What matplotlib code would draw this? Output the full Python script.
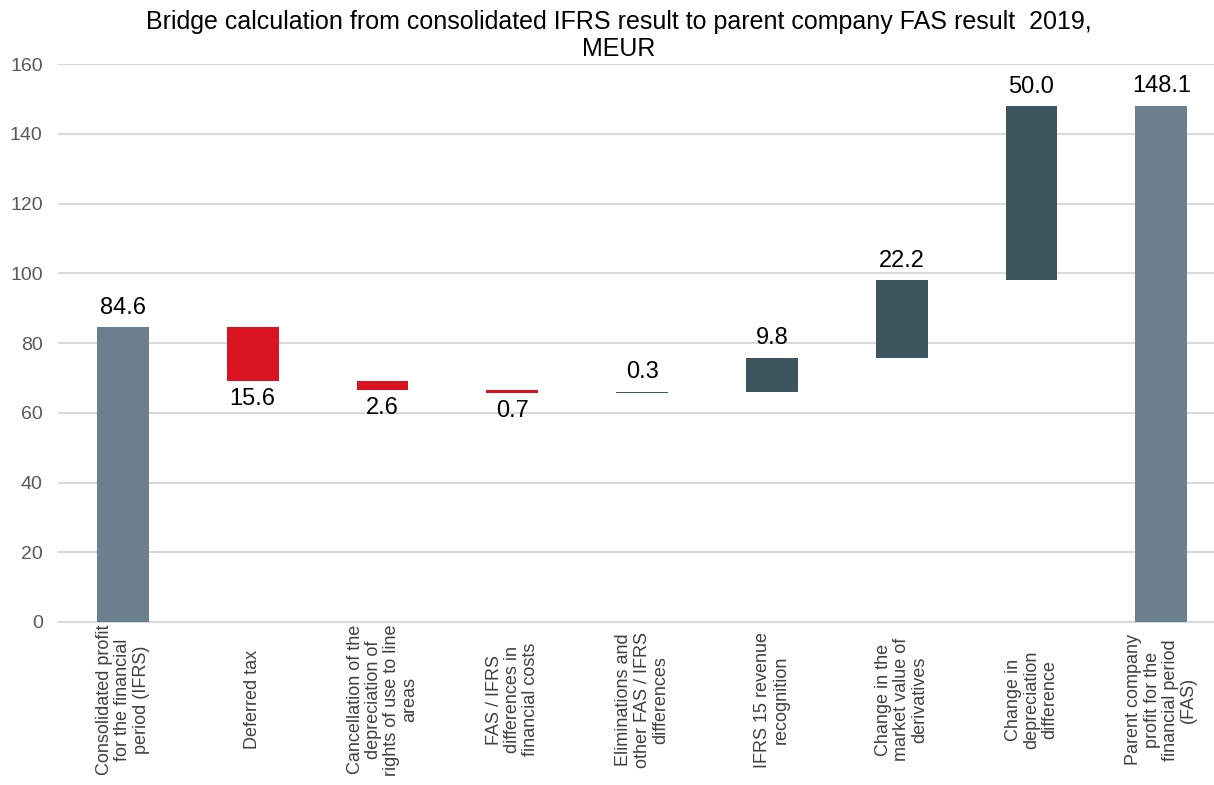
import matplotlib
matplotlib.use("Agg")
import matplotlib.pyplot as plt
import numpy as np

plt.rcParams['font.family'] = ['Liberation Sans', 'DejaVu Sans']

categories = [
    "Consolidated profit\nfor the financial\nperiod (IFRS)",
    "Deferred tax",
    "Cancellation of the\ndepreciation of\nrights of use to line\nareas",
    "FAS / IFRS\ndifferences in\nfinancial costs",
    "Eliminations and\nother FAS / IFRS\ndifferences",
    "IFRS 15 revenue\nrecognition",
    "Change in the\nmarket value of\nderivatives",
    "Change in\ndepreciation\ndifference",
    "Parent company\nprofit for the\nfinancial period\n(FAS)",
]
values = [84.6, -15.6, -2.6, -0.7, 0.3, 9.8, 22.2, 50.0, 148.1]
kinds = ["total", "delta", "delta", "delta", "delta", "delta", "delta", "delta", "total"]
value_labels = ["84.6", "15.6", "2.6", "0.7", "0.3", "9.8", "22.2", "50.0", "148.1"]
yticks = [0, 20, 40, 60, 80, 100, 120, 140, 160]
title = "Bridge calculation from consolidated IFRS result to parent company FAS result  2019,\nMEUR"

c_total = "#6B808C"
c_neg = "#D7141F"
c_pos = "#3E5560"

fig = plt.figure(figsize=(12.14, 7.85), dpi=100)
ax = fig.add_axes([58/1214, 1 - 622/785, 1 - 58/1214, (622 - 64)/785])

x = np.arange(len(values))
running = 0.0
bottoms, heights, colors = [], [], []
for v, k in zip(values, kinds):
    if k == "total":
        bottoms.append(0.0)
        heights.append(v)
        colors.append(c_total)
        running = v
    else:
        if v >= 0:
            bottoms.append(running)
            heights.append(v)
            colors.append(c_pos)
        else:
            bottoms.append(running + v)
            heights.append(-v)
            colors.append(c_neg)
        running += v

ax.bar(x, heights, bottom=bottoms, width=0.4, color=colors, zorder=3, linewidth=0)

for i, (v, k) in enumerate(zip(values, kinds)):
    if k == "delta" and v < 0:
        ax.annotate(value_labels[i], (x[i], bottoms[i]), xytext=(0, -5),
                    textcoords="offset points", ha="center", va="top", fontsize=17)
    else:
        ax.annotate(value_labels[i], (x[i], bottoms[i] + heights[i]), xytext=(0, 6),
                    textcoords="offset points", ha="center", va="bottom", fontsize=17)

ax.set_xlim(-0.5, -0.5 + 1156/129.8)
ax.set_ylim(0, 160)
ax.set_yticks(yticks)
ax.set_yticklabels([str(t) for t in yticks], fontsize=14, color="#595959")
ax.set_xticks(x)
ax.set_xticklabels(categories, rotation=90, fontsize=13, color="#404040",
                   va="center", ha="center", multialignment="center",
                   linespacing=1.1)
ax.tick_params(axis="x", length=0, pad=56)
ax.tick_params(axis="y", length=0, pad=11)
ax.grid(axis="y", color="#D9D9D9", linewidth=1.5, zorder=0)
for s in ["top", "right", "left"]:
    ax.spines[s].set_visible(False)
ax.spines["bottom"].set_color("#D9D9D9")
ax.spines["bottom"].set_linewidth(1.5)

fig.text(619/1214, 1 - 10/785, title, ha="center", va="top", fontsize=18,
         multialignment="center", color="black", linespacing=1.15)

fig.savefig("out.png", dpi=100)
